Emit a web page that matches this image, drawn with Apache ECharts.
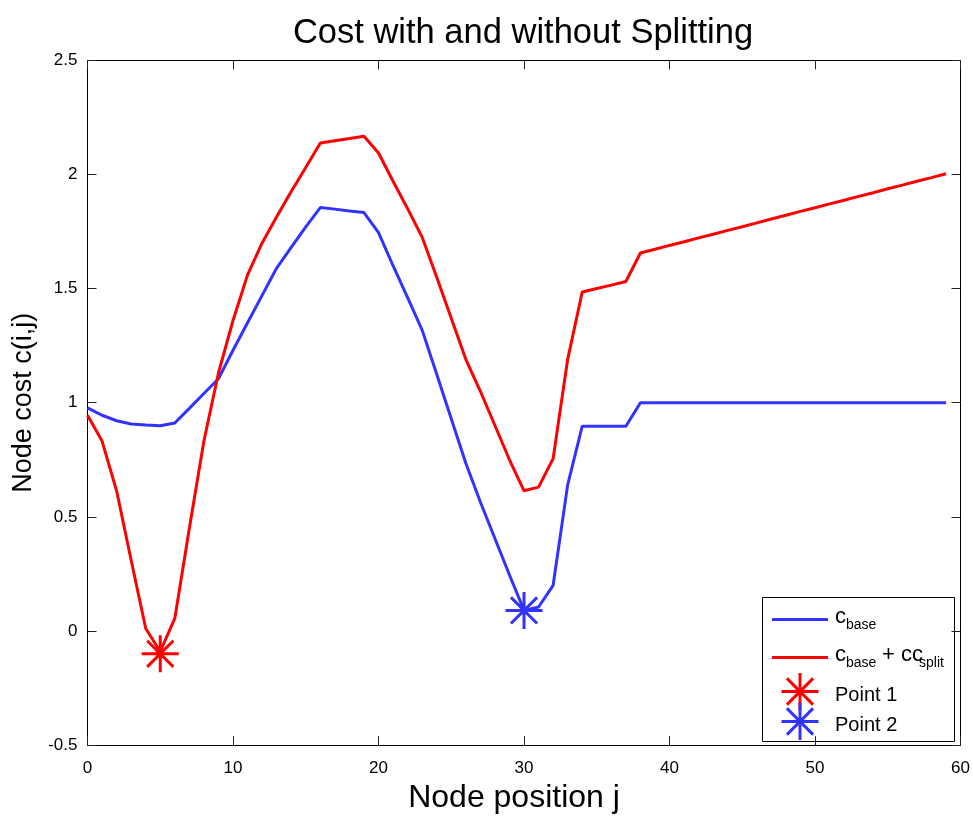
<!DOCTYPE html>
<html>
<head>
<meta charset="utf-8">
<script src="https://cdn.jsdelivr.net/npm/echarts@6/dist/echarts.min.js"></script>
<style>
  html, body { margin: 0; padding: 0; background: #fff; }
  #chart { width: 973px; height: 819px; }
</style>
</head>
<body>
<div id="chart"></div>
<script>
// Node positions j
const nodePos = [0, 1, 2, 3, 4, 5, 6, 7, 8, 9, 10, 11, 12, 13, 14, 15, 16, 17, 18, 19,
  20, 21, 22, 23, 24, 25, 26, 27, 28, 29, 30, 31, 32, 33, 34, 35, 36, 37, 38, 39,
  40, 41, 42, 43, 44, 45, 46, 47, 48, 49, 50, 51, 52, 53, 54, 55, 56, 57, 58, 59];

// c_base
const costBase = [0.977, 0.945, 0.921, 0.907, 0.902, 0.899, 0.911, 0.975, 1.040, 1.105,
  1.230, 1.350, 1.470, 1.590, 1.680, 1.770, 1.855, 1.848, 1.840, 1.833,
  1.745, 1.600, 1.460, 1.318, 1.125, 0.930, 0.735, 0.565, 0.405, 0.245,
  0.090, 0.105, 0.200, 0.640, 0.897, 0.897, 0.897, 0.897, 1.000, 1.000,
  1.000, 1.000, 1.000, 1.000, 1.000, 1.000, 1.000, 1.000, 1.000, 1.000,
  1.000, 1.000, 1.000, 1.000, 1.000, 1.000, 1.000, 1.000, 1.000, 1.000];

// c_base + cc_split
const costSplit = [0.945, 0.832, 0.614, 0.310, 0.011, -0.090, 0.055, 0.450, 0.832, 1.130,
  1.360, 1.560, 1.700, 1.815, 1.925, 2.030, 2.138, 2.148, 2.157, 2.167,
  2.094, 1.970, 1.850, 1.725, 1.550, 1.370, 1.190, 1.050, 0.900, 0.750,
  0.614, 0.630, 0.755, 1.190, 1.485, 1.500, 1.515, 1.531, 1.656, 1.672,
  1.689, 1.705, 1.722, 1.738, 1.755, 1.771, 1.788, 1.805, 1.821, 1.838,
  1.854, 1.871, 1.887, 1.904, 1.920, 1.937, 1.953, 1.970, 1.986, 2.003];

// Marked points
const point1 = [5, -0.1];
const point2 = [30, 0.09];

const xTicks = { min: 0, max: 60, interval: 10 };
const yTicks = { min: -0.5, max: 2.5, interval: 0.5 };

const BLUE = '#3333ff';
const RED = '#ff0000';
const FONT = '"Liberation Sans", Arial, Helvetica, sans-serif';

const ASTERISK = 'path://M0,-10L0,10M-10,0L10,0M-7.07,-7.07L7.07,7.07M-7.07,7.07L7.07,-7.07';

function pairs(xs, ys) { return xs.map((x, i) => [x, ys[i]]); }

// legend star built from four strokes
function star(cx, cy, r, color) {
  const d = r * 0.707;
  const segs = [[0, -r, 0, r], [-r, 0, r, 0], [-d, -d, d, d], [-d, d, d, -d]];
  return segs.map(s => ({
    type: 'line',
    shape: { x1: cx + s[0], y1: cy + s[1], x2: cx + s[2], y2: cy + s[3] },
    style: { stroke: color, lineWidth: 3 }
  }));
}

function txt(x, y, text, size) {
  return {
    type: 'text', x: x, y: y,
    style: { text: text, fill: '#000', font: size + 'px ' + FONT, verticalAlign: 'middle' }
  };
}

function axisBase() {
  return {
    type: 'value',
    axisLine: { show: true, onZero: false, lineStyle: { color: '#000', width: 1 } },
    axisTick: { show: true, inside: true, length: 9, lineStyle: { color: '#222' } },
    splitLine: { show: false }
  };
}

const chart = echarts.init(document.getElementById('chart'), null, { renderer: 'canvas' });

chart.setOption({
  backgroundColor: '#fff',
  animation: false,
  title: {
    text: 'Cost with and without Splitting',
    left: 518, top: 11, textAlign: 'center',
    textStyle: { fontFamily: FONT, fontSize: 34.5, fontWeight: 'normal', color: '#000' }
  },
  grid: { left: 87.5, right: 10.5, top: 60.3, bottom: 69.7, containLabel: false },
  xAxis: [
    Object.assign(axisBase(), {
      position: 'bottom', min: xTicks.min, max: xTicks.max, interval: xTicks.interval,
      name: 'Node position j', nameLocation: 'middle', nameGap: 34,
      nameTextStyle: { fontFamily: FONT, fontSize: 32, color: '#000', padding: [0, 20, 0, 0] },
      axisLabel: { margin: 15, fontFamily: FONT, fontSize: 17, color: '#000' }
    }),
    Object.assign(axisBase(), {
      position: 'top', min: xTicks.min, max: xTicks.max, interval: xTicks.interval,
      axisLabel: { show: false }
    })
  ],
  yAxis: [
    Object.assign(axisBase(), {
      position: 'left', min: yTicks.min, max: yTicks.max, interval: yTicks.interval,
      name: 'Node cost c(i,j)', nameLocation: 'middle', nameGap: 41,
      nameTextStyle: { fontFamily: FONT, fontSize: 27, color: '#000' },
      axisLabel: { margin: 10, fontFamily: FONT, fontSize: 17, color: '#000', padding: [4, 0, 0, 0] }
    }),
    Object.assign(axisBase(), {
      position: 'right', min: yTicks.min, max: yTicks.max, interval: yTicks.interval,
      axisLabel: { show: false }
    })
  ],
  series: [
    {
      name: 'c_base', type: 'line', xAxisIndex: 0, yAxisIndex: 0,
      data: pairs(nodePos, costBase), symbol: 'none',
      lineStyle: { color: BLUE, width: 3 }, z: 3
    },
    {
      name: 'c_base + cc_split', type: 'line', xAxisIndex: 0, yAxisIndex: 0,
      data: pairs(nodePos, costSplit), symbol: 'none',
      lineStyle: { color: RED, width: 3 }, z: 3
    },
    {
      name: 'Point 1', type: 'scatter', xAxisIndex: 0, yAxisIndex: 0,
      data: [point1], symbol: ASTERISK, symbolSize: 37,
      itemStyle: { color: 'rgba(0,0,0,0)', borderColor: RED, borderWidth: 3, opacity: 1 }, z: 4
    },
    {
      name: 'Point 2', type: 'scatter', xAxisIndex: 0, yAxisIndex: 0,
      data: [point2], symbol: ASTERISK, symbolSize: 37,
      itemStyle: { color: 'rgba(0,0,0,0)', borderColor: BLUE, borderWidth: 3, opacity: 1 }, z: 4
    }
  ],
  graphic: [{
    type: 'group', z: 100,
    children: [
      { type: 'rect', shape: { x: 762.5, y: 597.5, width: 192, height: 144 },
        style: { fill: '#fff', stroke: '#000', lineWidth: 1 } },
      { type: 'line', shape: { x1: 772, y1: 619.5, x2: 828, y2: 619.5 }, style: { stroke: BLUE, lineWidth: 3 } },
      txt(835, 617, 'c', 22),
      txt(846, 625, 'base', 14),
      { type: 'line', shape: { x1: 772, y1: 657.5, x2: 828, y2: 657.5 }, style: { stroke: RED, lineWidth: 3 } },
      txt(835, 655, 'c', 22),
      txt(846, 663, 'base', 14),
      txt(882, 655, '+ cc', 22),
      txt(919, 663, 'split', 14),
      ...star(800, 691.5, 18.5, RED),
      txt(835, 695.5, 'Point 1', 20),
      ...star(800, 721.5, 18.5, BLUE),
      txt(835, 725.5, 'Point 2', 20)
    ]
  }]
});
</script>
</body>
</html>
